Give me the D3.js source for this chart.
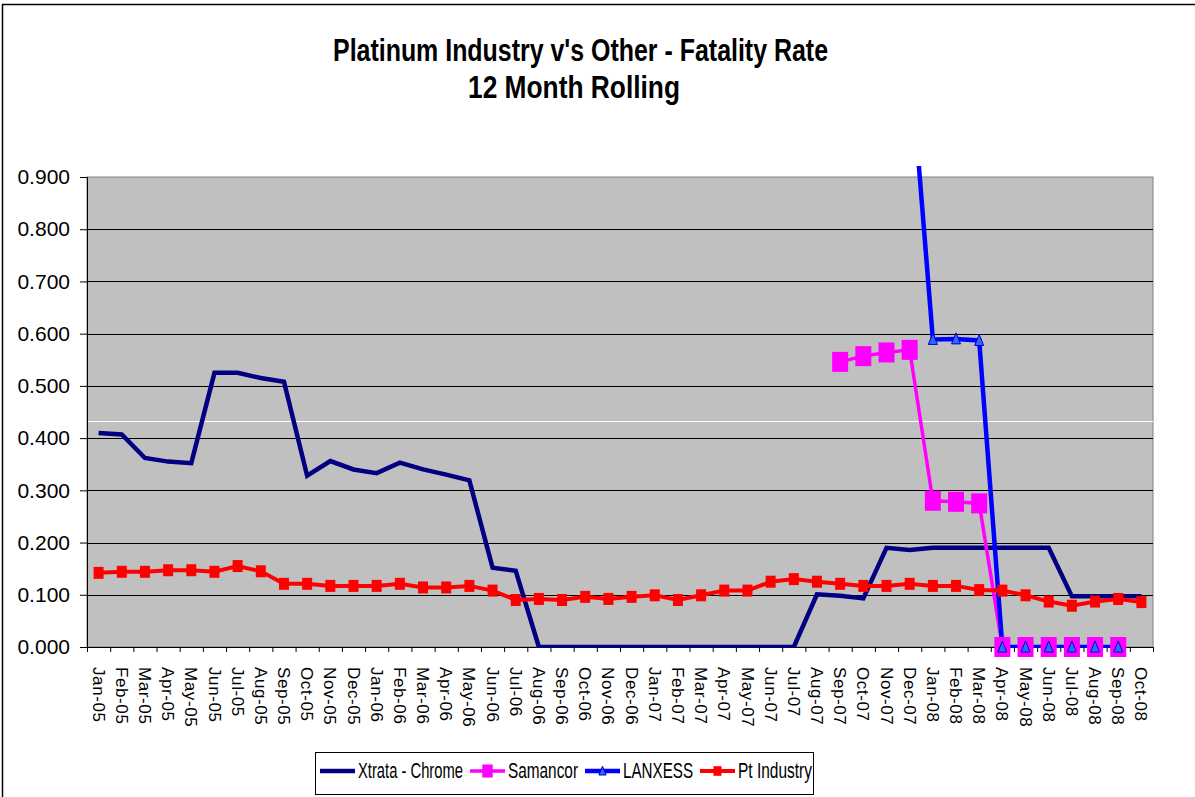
<!DOCTYPE html>
<html>
<head>
<meta charset="utf-8">
<script src="https://cdn.jsdelivr.net/npm/d3@7"></script>
<style>
  body { margin: 0; background: #fff; }
  svg { display: block; }
  .title { font-family: "Liberation Sans", Arial, sans-serif; font-weight: bold; font-size: 31px; }
  .y-axis text { font-family: "Liberation Sans", Arial, sans-serif; font-size: 21px; fill: #000; }
  .x-axis text { font-family: "Liberation Sans", Arial, sans-serif; font-size: 17px; letter-spacing: 0.6px; fill: #000; }
  .legend text { font-family: "Liberation Sans", Arial, sans-serif; font-size: 21.5px; }
</style>
</head>
<body>
<div id="chart"></div>
<script>
// data
const months = [
  "Jan-05","Feb-05","Mar-05","Apr-05","May-05","Jun-05","Jul-05","Aug-05","Sep-05","Oct-05","Nov-05","Dec-05",
  "Jan-06","Feb-06","Mar-06","Apr-06","May-06","Jun-06","Jul-06","Aug-06","Sep-06","Oct-06","Nov-06","Dec-06",
  "Jan-07","Feb-07","Mar-07","Apr-07","May-07","Jun-07","Jul-07","Aug-07","Sep-07","Oct-07","Nov-07","Dec-07",
  "Jan-08","Feb-08","Mar-08","Apr-08","May-08","Jun-08","Jul-08","Aug-08","Sep-08","Oct-08"
];
const xtrata = [
  0.410,0.407,0.362,0.355,0.352,0.525,0.525,0.515,0.508,0.328,0.356,0.340,
  0.333,0.353,0.340,0.330,0.319,0.152,0.146,0,0,0,0,0,
  0,0,0,0,0,0,0,0.101,0.098,0.093,0.190,0.186,
  0.190,0.190,0.190,0.190,0.190,0.190,0.097,0.097,0.097,0.097
];
const samancor = [
  null,null,null,null,null,null,null,null,null,null,null,null,
  null,null,null,null,null,null,null,null,null,null,null,null,
  null,null,null,null,null,null,null,null,0.546,0.557,0.564,0.569,
  0.280,0.278,0.275,0,0,0,0,0,0,null
];
const lanxess = [
  null,null,null,null,null,null,null,null,null,null,null,null,
  null,null,null,null,null,null,null,null,null,null,null,null,
  null,null,null,null,null,null,null,null,null,null,null,1.14,
  0.589,0.590,0.587,0,0,0,0,0,0,null
];
const ptIndustry = [
  0.142,0.144,0.144,0.147,0.147,0.144,0.155,0.145,0.121,0.121,0.117,0.117,
  0.117,0.121,0.114,0.114,0.117,0.108,0.090,0.092,0.090,0.096,0.092,0.096,
  0.099,0.090,0.099,0.108,0.108,0.125,0.130,0.125,0.121,0.117,0.117,0.121,
  0.117,0.117,0.109,0.108,0.099,0.087,0.079,0.087,0.092,0.086
];
const yTicks = [0,0.1,0.2,0.3,0.4,0.5,0.6,0.7,0.8,0.9];

const series = [
  { name: "Xtrata - Chrome", values: xtrata, color: "#000080", width: 4.5, marker: null, labelW: 105 },
  { name: "Samancor", values: samancor, color: "#FF00FF", width: 3.5, marker: "bigsquare", labelW: 70 },
  { name: "LANXESS", values: lanxess, color: "#0000FF", width: 4.5, marker: "triangle", labelW: 70 },
  { name: "Pt Industry", values: ptIndustry, color: "#FF0000", width: 4, marker: "square", labelW: 74 }
];

const W = 1195, H = 797;
const margin = { top: 177, right: 42, bottom: 150, left: 87 },
    width = W - margin.left - margin.right,
    height = H - margin.top - margin.bottom;

const root = d3.select("#chart").append("svg").attr("width", W).attr("height", H);

// outer chart border
root.append("rect")
    .attr("x", 2.5).attr("y", 4.5)
    .attr("width", W + 10).attr("height", H + 10)
    .attr("fill", "none").attr("stroke", "#000").attr("stroke-width", 1.5);

// title (squeezed like the narrow original font)
root.append("text").attr("class", "title")
    .attr("x", 333).attr("y", 61)
    .attr("textLength", 495).attr("lengthAdjust", "spacingAndGlyphs")
    .text("Platinum Industry v's Other - Fatality Rate");
root.append("text").attr("class", "title")
    .attr("x", 468).attr("y", 98)
    .attr("textLength", 212).attr("lengthAdjust", "spacingAndGlyphs")
    .text("12 Month Rolling");

const svg = root.append("g").attr("transform", `translate(${margin.left},${margin.top})`);

const x = d3.scaleBand().domain(months).range([0, width]);
const xEdge = d3.scaleLinear().domain([0, months.length]).range([0, width]);
const y = d3.scaleLinear().domain([0, 0.9]).range([height, 0]);
const cx = (i) => x(months[i]) + x.bandwidth() / 2;

// plot area
svg.append("rect")
    .attr("width", width).attr("height", height)
    .attr("fill", "#C0C0C0").attr("stroke", "#808080").attr("stroke-width", 1);

// gridlines
svg.append("g").selectAll("line")
    .data(yTicks.filter((d) => d > 0 && d < 0.9))
    .enter().append("line")
    .attr("x1", 0).attr("x2", width)
    .attr("y1", (d) => Math.round(y(d)) + 0.5).attr("y2", (d) => Math.round(y(d)) + 0.5)
    .attr("stroke", "#000").attr("stroke-width", 1);

// faint white rule seen across the plot
svg.append("line")
    .attr("x1", 0).attr("x2", width)
    .attr("y1", Math.round(y(0.433)) + 0.5).attr("y2", Math.round(y(0.433)) + 0.5)
    .attr("stroke", "#fff").attr("stroke-width", 1);

// axes
svg.append("g")
    .attr("class", "axis y-axis")
    .call(d3.axisLeft(y).tickValues(yTicks).tickFormat(d3.format(".3f")).tickSize(7).tickPadding(10))
    .call((g) => g.selectAll("path, line").attr("stroke", "#000"));

svg.append("g")
    .attr("class", "axis x-ticks")
    .attr("transform", `translate(0,${height})`)
    .call(d3.axisBottom(xEdge).tickValues(d3.range(months.length + 1)).tickFormat("").tickSize(5).tickSizeOuter(0))
    .call((g) => g.selectAll("path, line").attr("stroke", "#000"));

svg.append("g")
    .attr("class", "axis x-axis")
    .attr("transform", `translate(0,${height})`)
    .call(d3.axisBottom(x).tickSize(0))
    .call((g) => g.select(".domain").remove())
    .selectAll("text")
    .attr("y", 0)
    .attr("x", 20)
    .attr("dy", ".35em")
    .attr("transform", "rotate(90)")
    .style("text-anchor", "start");

// clip: lines may run slightly above the plot top, like the original
svg.append("clipPath").attr("id", "clip")
    .append("rect").attr("x", 0).attr("y", -11).attr("width", width).attr("height", height + 12);

const line = d3.line()
    .defined((d) => d != null)
    .x((d, i) => cx(i))
    .y((d) => y(d));

function drawMarker(g, type, px, py, scale) {
  const k = scale || 1;
  if (type === "square") {
    g.append("rect").attr("x", px - 5 * k).attr("y", py - 6 * k)
        .attr("width", 10 * k).attr("height", 12 * k).attr("fill", "#FF0000");
  } else if (type === "bigsquare") {
    g.append("rect").attr("x", px - 8 * k).attr("y", py - 10 * k)
        .attr("width", 16 * k).attr("height", 20 * k).attr("fill", "#FF00FF");
  } else if (type === "triangle") {
    g.append("path")
        .attr("d", `M${px},${py - 6 * k}L${px + 4.5 * k},${py + 5 * k}L${px - 4.5 * k},${py + 5 * k}Z`)
        .attr("fill", "#3366FF").attr("stroke", "#0000CC").attr("stroke-width", 1);
  }
}

const plot = svg.append("g").attr("clip-path", "url(#clip)");
series.forEach((s) => {
  plot.append("path")
      .datum(s.values)
      .attr("fill", "none")
      .attr("stroke", s.color)
      .attr("stroke-width", s.width)
      .attr("stroke-linejoin", "miter")
      .attr("d", line);
  if (s.marker) {
    const mg = svg.append("g");
    s.values.forEach((v, i) => {
      if (v != null && v <= 0.9) drawMarker(mg, s.marker, cx(i), y(v));
    });
  }
});

// legend
const legend = root.append("g").attr("class", "legend");
legend.append("rect")
    .attr("x", 315.5).attr("y", 752.5).attr("width", 498).attr("height", 42)
    .attr("fill", "#fff").attr("stroke", "#000").attr("stroke-width", 1);
let lx = 320;
const ly = 771;
series.forEach((s) => {
  legend.append("line")
      .attr("x1", lx).attr("x2", lx + 35).attr("y1", ly).attr("y2", ly)
      .attr("stroke", s.color).attr("stroke-width", s.width);
  if (s.marker) drawMarker(legend, s.marker, lx + 17.5, ly, s.marker === "bigsquare" ? 0.65 : 0.8);
  legend.append("text").attr("x", lx + 38).attr("y", ly + 7)
      .attr("textLength", s.labelW).attr("lengthAdjust", "spacingAndGlyphs")
      .text(s.name);
  lx += 38 + s.labelW + 7;
});
</script>
</body>
</html>
